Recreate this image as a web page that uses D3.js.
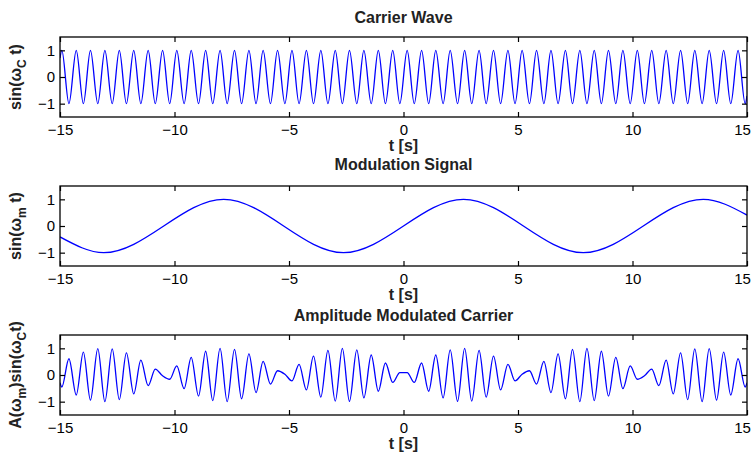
<!DOCTYPE html>
<html>
<head>
<meta charset="utf-8">
<script src="https://cdn.jsdelivr.net/npm/d3@7"></script>
<style>
  body { margin: 0; background: #fff; }
  svg { display: block; font-family: Arial, "Liberation Sans", Helvetica, sans-serif; }
</style>
</head>
<body>
<div id="chart"></div>
<script>
// x ticks (time, s) and y ticks, shared by all three panels
const tickX = [-15, -10, -5, 0, 5, 10, 15];
const tickY = [-1, 0, 1];

// carrier: turning points (plus both ends)
const carrierT = [-15,
  -14.92, -14.61, -14.29, -13.98, -13.67, -13.35, -13.04, -12.72, -12.41, -12.10,
  -11.78, -11.47, -11.15, -10.84, -10.52, -10.21, -9.90, -9.58, -9.27, -8.95,
  -8.64, -8.33, -8.01, -7.70, -7.38, -7.07, -6.75, -6.44, -6.13, -5.81,
  -5.50, -5.18, -4.87, -4.56, -4.24, -3.93, -3.61, -3.30, -2.98, -2.67,
  -2.36, -2.04, -1.73, -1.41, -1.10, -0.79, -0.47, -0.16,
  0.16, 0.47, 0.79, 1.10, 1.41, 1.73, 2.04, 2.36, 2.67, 2.98,
  3.30, 3.61, 3.93, 4.24, 4.56, 4.87, 5.18, 5.50, 5.81, 6.13,
  6.44, 6.75, 7.07, 7.38, 7.70, 8.01, 8.33, 8.64, 8.95, 9.27,
  9.58, 9.90, 10.21, 10.52, 10.84, 11.15, 11.47, 11.78, 12.10, 12.41,
  12.72, 13.04, 13.35, 13.67, 13.98, 14.29, 14.61, 14.92,
  15];
const carrierY = [0.71,
  1, -1, 1, -1, 1, -1, 1, -1, 1, -1,
  1, -1, 1, -1, 1, -1, 1, -1, 1, -1,
  1, -1, 1, -1, 1, -1, 1, -1, 1, -1,
  1, -1, 1, -1, 1, -1, 1, -1, 1, -1,
  1, -1, 1, -1, 1, -1, 1, -1,
  1, -1, 1, -1, 1, -1, 1, -1, 1, -1,
  1, -1, 1, -1, 1, -1, 1, -1, 1, -1,
  1, -1, 1, -1, 1, -1, 1, -1, 1, -1,
  1, -1, 1, -1, 1, -1, 1, -1, 1, -1,
  1, -1, 1, -1, 1, -1, 1, -1,
  -0.71];

// modulation signal: ends and turning points
const modT = [-15, -13.09, -7.85, -2.62, 2.62, 7.85, 13.09, 15];
const modY = [-0.41, -1, 1, -1, 1, -1, 1, 0.41];

// modulated carrier, sampled at the same times as carrierT
const amY = [-0.29,
  -0.45, 0.61, -0.75, 0.86, -0.94, 0.99, -1.00, 0.98, -0.92, 0.83,
  -0.71, 0.56, -0.40, 0.22, -0.03, -0.16, 0.34, -0.51, 0.66, -0.79,
  0.89, -0.96, 1.00, -1.00, 0.96, -0.89, 0.79, -0.66, 0.51, -0.34,
  0.16, 0.03, -0.22, 0.40, -0.56, 0.71, -0.83, 0.92, -0.98, 1.00,
  -0.99, 0.94, -0.86, 0.75, -0.61, 0.45, -0.28, 0.09,
  0.09, -0.28, 0.45, -0.61, 0.75, -0.86, 0.94, -0.99, 1.00, -0.98,
  0.92, -0.83, 0.71, -0.56, 0.40, -0.22, 0.03, 0.16, -0.34, 0.51,
  -0.66, 0.79, -0.89, 0.96, -1.00, 1.00, -0.96, 0.89, -0.79, 0.66,
  -0.51, 0.34, -0.16, -0.03, 0.22, -0.40, 0.56, -0.71, 0.83, -0.92,
  0.98, -1.00, 0.99, -0.94, 0.86, -0.75, 0.61, -0.45,
  -0.29];

const W = 753, H = 452;
const plotLeft = 60, plotRight = 747, plotH = 80;

// layout of each subplot
const panels = [
  { id: 'p1', top: 37, t: carrierT, v: carrierY, title: 'Carrier Wave', titleY: 23,
    label: [['sin(ω', 0], ['C', 1], [' t)', 0]] },
  { id: 'p2', top: 186, t: modT, v: modY, title: 'Modulation Signal', titleY: 170,
    label: [['sin(ω', 0], ['m', 1], [' t)', 0]] },
  { id: 'p3', top: 335, t: carrierT, v: amY, title: 'Amplitude Modulated Carrier', titleY: 321,
    label: [['A(ω', 0], ['m', 1], [')sin(ω', 0], ['C', 1], ['t)', 0]] }
];

const svg = d3.select('#chart').append('svg')
  .attr('width', W)
  .attr('height', H);

const x = d3.scaleLinear().domain([-15, 15]).range([plotLeft, plotRight]);

function drawPanel(p) {
  const y = d3.scaleLinear().domain([-1.5, 1.5]).range([p.top + plotH, p.top]);
  const g = svg.append('g');

  svg.append('clipPath').attr('id', 'clip-' + p.id)
    .append('rect')
    .attr('x', plotLeft).attr('y', p.top)
    .attr('width', plotRight - plotLeft).attr('height', plotH);

  const pts = p.t.map((t, i) => [t, p.v[i]]);
  const line = d3.line()
    .x(d => x(d[0]))
    .y(d => y(d[1]))
    .curve(d3.curveMonotoneX);

  g.append('path')
    .datum(pts)
    .attr('clip-path', `url(#clip-${p.id})`)
    .attr('fill', 'none')
    .attr('stroke', '#0000ff')
    .attr('stroke-width', 1.3)
    .attr('d', line);

  // ticks point inward on all four sides (box on)
  const axB = g.append('g').attr('transform', `translate(0,${p.top + plotH})`)
    .call(d3.axisBottom(x).tickValues(tickX).tickSize(-5).tickPadding(7).tickFormat(d3.format('d')));
  const axT = g.append('g').attr('transform', `translate(0,${p.top})`)
    .call(d3.axisTop(x).tickValues(tickX).tickSize(-5).tickFormat(''));
  const axL = g.append('g').attr('transform', `translate(${plotLeft},0)`)
    .call(d3.axisLeft(y).tickValues(tickY).tickSize(-5).tickPadding(5).tickFormat(d3.format('d')));
  const axR = g.append('g').attr('transform', `translate(${plotRight},0)`)
    .call(d3.axisRight(y).tickValues(tickY).tickSize(-5).tickFormat(''));

  [axB, axT, axL, axR].forEach(a => {
    a.select('.domain').remove();
    a.selectAll('line').attr('stroke', '#000').attr('stroke-width', 1.2);
    a.selectAll('text').attr('fill', '#000').style('font-size', '15px')
      .style('font-family', 'Arial, "Liberation Sans", sans-serif');
  });
  // last x label sits on the window edge; nudge it in so it is not cut
  axB.selectAll('.tick text').filter(d => d === 15).attr('dx', -5);

  g.append('rect')
    .attr('x', plotLeft).attr('y', p.top)
    .attr('width', plotRight - plotLeft).attr('height', plotH)
    .attr('fill', 'none')
    .attr('stroke', '#000')
    .attr('stroke-width', 1.3);

  // title
  g.append('text')
    .attr('x', (plotLeft + plotRight) / 2)
    .attr('y', p.titleY)
    .attr('text-anchor', 'middle')
    .style('font-size', '16px')
    .style('font-weight', 'bold')
    .attr('fill', '#222')
    .text(p.title);

  // x label
  g.append('text')
    .attr('x', (plotLeft + plotRight) / 2)
    .attr('y', p.top + plotH + 34)
    .attr('text-anchor', 'middle')
    .style('font-size', '16px')
    .style('font-weight', 'bold')
    .attr('fill', '#222')
    .text('t [s]');

  // y label with subscripts
  const yl = g.append('text')
    .attr('transform', `translate(21,${p.top + plotH / 2}) rotate(-90)`)
    .attr('text-anchor', 'middle')
    .style('font-size', '16px')
    .style('font-weight', 'bold')
    .attr('fill', '#222');
  let prev = 0;
  p.label.forEach(([s, sub]) => {
    yl.append('tspan')
      .attr('dy', (sub - prev) * 5)
      .style('font-size', sub ? '12px' : '16px')
      .text(s);
    prev = sub;
  });
}

panels.forEach(drawPanel);
</script>
</body>
</html>
